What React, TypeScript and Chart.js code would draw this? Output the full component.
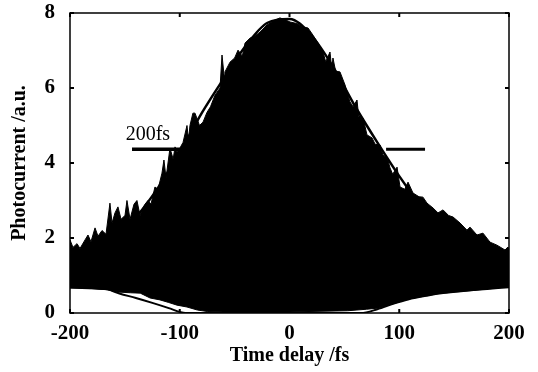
import React, { useEffect, useRef } from "react";
import { Chart, registerables } from "chart.js";

Chart.register(...registerables);

const X_TICKS = [-200, -100, 0, 100, 200];
const Y_TICKS = [0, 2, 4, 6, 8];

// Upper edge of the interference fringes
const fringeTopDelay = [
  -200, -197.3, -193.6, -190.9, -186.3, -183.6, -180.9, -177.2, -174.5, -170.8,
  -167.2, -163.6, -161.7, -159, -156.3, -153.5, -149.9, -148.1, -145.3, -141.7,
  -139, -136.2, -134.4, -131.7, -128.9, -126.2, -122.6, -119.8, -116.2, -114.4,
  -112.5, -108.9, -106, -104.3, -102.5, -99.8, -97, -93.4, -92, -90.7,
  -88, -86.1, -82, -78.8, -75.2, -72, -67.9, -63.3, -61.5, -59.5,
  -58.8, -54.2, -50, -46.9, -43, -40.5, -36, -31, -26.9, -20.5,
  -14, -8.7, -4, 0.5, 6.8, 12.3, 16.9, 21.4, 26, 30.5,
  33, 36.9, 38.5, 39.6, 42, 46, 50.6, 55.1, 58, 61.5,
  63, 67, 70.6, 75.2, 78, 82.5, 85.2, 89, 91.6, 94,
  98, 100.7, 105, 108, 112.5, 118, 121.6, 125.3, 130.8, 135.3,
  139.9, 145, 149, 155.4, 161.7, 164.5, 170.8, 176.3, 182.7, 189,
  196.4, 199, 200,
];
const fringeTopCurrent = [
  1.95, 1.75, 1.85, 1.72, 1.95, 2.08, 1.9, 2.27, 2.05, 2.2,
  2.1, 2.93, 2.4, 2.67, 2.83, 2.5, 2.6, 3.0, 2.5, 2.9,
  3.0, 2.6, 2.75, 2.9, 3.0, 2.9, 3.36, 3.3, 3.73, 4.08,
  3.6, 4.4, 4.1, 4.43, 4.3, 4.4, 4.55, 5.0, 4.6, 5.0,
  5.33, 5.33, 5.0, 5.09, 5.35, 5.5, 5.81, 6.0, 6.88, 6.3,
  6.43, 6.69, 6.8, 7.01, 6.85, 7.2, 7.33, 7.4, 7.49, 7.68,
  7.8, 7.87, 7.82, 7.76, 7.72, 7.63, 7.6, 7.41, 7.2, 6.96,
  6.7, 6.96, 6.5, 6.8, 6.45, 6.43, 6.08, 5.63, 5.5, 5.68,
  5.25, 5.2, 4.75, 4.67, 4.5, 4.48, 4.21, 4.15, 3.87, 3.7,
  3.89, 3.36, 3.3, 3.49, 3.2, 3.1, 3.09, 2.93, 2.8, 2.67,
  2.75, 2.6, 2.56, 2.4, 2.21, 2.29, 2.08, 2.13, 1.89, 1.81,
  1.68, 1.76, 1.7,
];

// Lower edge of the interference fringes
const fringeBottomDelay = [
  -200, -190, -180, -166, -157, -145, -136, -127, -118, -110,
  -102.5, -93.4, -84, -75, -60, 0, 53, 70, 80.6, 95,
  108, 125, 138, 162.7, 180, 200,
];
const fringeBottomCurrent = [
  0.67, 0.66, 0.65, 0.62, 0.56, 0.54, 0.53, 0.4, 0.35, 0.28,
  0.21, 0.16, 0.08, 0.04, 0.03, 0.03, 0.06, 0.1, 0.13, 0.25,
  0.37, 0.46, 0.53, 0.59, 0.64, 0.7,
];

// Smooth upper envelope
const envelopeDelay = [
  -200, -180, -160, -140, -120, -100, -80, -60, -40, -20,
  0, 20, 40, 60, 80, 100, 120, 140, 160, 180, 200,
];
const envelopeCurrent = [
  1.31, 1.57, 1.97, 2.55, 3.33, 4.28, 5.33, 6.25, 7.12, 7.74,
  7.84, 7.4, 6.55, 5.5, 4.55, 3.65, 2.85, 2.2, 1.75, 1.42, 1.22,
];

// Smooth lower envelope
const baseDelay = [
  -200, -180, -166, -155, -140, -125, -110, -100, -95, 65,
  80, 95, 108, 125, 140, 160, 180, 200,
];
const baseCurrent = [
  0.68, 0.66, 0.63, 0.52, 0.4, 0.27, 0.13, 0.03, 0, 0,
  0.1, 0.25, 0.36, 0.46, 0.53, 0.59, 0.64, 0.69,
];

// FWHM marker
const fwhmLeftDelay = [-143.5, -97];
const fwhmRightDelay = [88, 123.5];
const fwhmLevel = 4.37;
const fwhmLabel = "200fs";
const fwhmLabelDelay = -129;
const fwhmLabelLevel = 4.75;

const xTitle = "Time delay /fs";
const yTitle = "Photocurrent /a.u.";

const FONT = '"Liberation Serif", "Times New Roman", serif';

const zip = (xs: number[], ys: number[]) => xs.map((x, i) => ({ x, y: ys[i] }));

const framePlugin = {
  id: "frame",
  afterDatasetsDraw(chart: any) {
    const { ctx, chartArea: a, scales } = chart;
    const xs = scales.x;
    const ys = scales.y;
    ctx.save();
    ctx.strokeStyle = "#000";
    ctx.lineWidth = 1.5;
    ctx.strokeRect(a.left, a.top, a.right - a.left, a.bottom - a.top);
    ctx.lineWidth = 2;
    const tl = 4;
    ctx.beginPath();
    Y_TICKS.forEach((v) => {
      const py = ys.getPixelForValue(v);
      ctx.moveTo(a.left, py);
      ctx.lineTo(a.left + tl, py);
      ctx.moveTo(a.right, py);
      ctx.lineTo(a.right - tl, py);
    });
    X_TICKS.forEach((v) => {
      const px = xs.getPixelForValue(v);
      ctx.moveTo(px, a.bottom);
      ctx.lineTo(px, a.bottom - tl);
      ctx.moveTo(px, a.top);
      ctx.lineTo(px, a.top + tl);
    });
    ctx.stroke();
    ctx.fillStyle = "#000";
    ctx.font = `20px ${FONT}`;
    ctx.textAlign = "center";
    ctx.textBaseline = "middle";
    ctx.fillText(
      fwhmLabel,
      xs.getPixelForValue(fwhmLabelDelay),
      ys.getPixelForValue(fwhmLabelLevel)
    );
    ctx.restore();
  },
};

export default function App() {
  const ref = useRef<HTMLCanvasElement | null>(null);

  useEffect(() => {
    if (!ref.current) return;
    const chart = new Chart(ref.current, {
      type: "line",
      data: {
        datasets: [
          {
            data: zip(fringeTopDelay, fringeTopCurrent),
            borderColor: "#000",
            borderWidth: 1,
            backgroundColor: "#000",
            fill: "+1",
            pointRadius: 0,
            tension: 0,
          },
          {
            data: zip(fringeBottomDelay, fringeBottomCurrent),
            borderColor: "#000",
            borderWidth: 1,
            fill: false,
            pointRadius: 0,
            tension: 0,
          },
          {
            data: zip(envelopeDelay, envelopeCurrent),
            borderColor: "#000",
            borderWidth: 2.5,
            fill: false,
            pointRadius: 0,
            cubicInterpolationMode: "monotone",
          },
          {
            data: zip(baseDelay, baseCurrent),
            borderColor: "#000",
            borderWidth: 2,
            fill: false,
            pointRadius: 0,
            cubicInterpolationMode: "monotone",
          },
          {
            data: zip(fwhmLeftDelay, [fwhmLevel, fwhmLevel]),
            borderColor: "#000",
            borderWidth: 3.5,
            fill: false,
            pointRadius: 0,
          },
          {
            data: zip(fwhmRightDelay, [fwhmLevel, fwhmLevel]),
            borderColor: "#000",
            borderWidth: 3,
            fill: false,
            pointRadius: 0,
          },
        ],
      },
      options: {
        responsive: false,
        animation: false,
        devicePixelRatio: 1,
        layout: { padding: { top: 13, right: 29, left: 0, bottom: 0 } },
        plugins: {
          legend: { display: false },
          tooltip: { enabled: false },
        },
        scales: {
          x: {
            type: "linear",
            min: -200,
            max: 200,
            afterFit: (s: any) => {
              s.height = 59;
              s.paddingLeft = 0;
              s.paddingRight = 0;
            },
            afterBuildTicks: (s: any) => {
              s.ticks = X_TICKS.map((v) => ({ value: v }));
            },
            grid: { display: false, drawTicks: false },
            border: { display: false },
            ticks: {
              color: "#000",
              padding: 8,
              maxRotation: 0,
              font: { family: FONT, size: 21, weight: "bold" },
            },
            title: {
              display: true,
              text: xTitle,
              color: "#000",
              padding: { top: 0, bottom: 4 },
              font: { family: FONT, size: 20, weight: "bold" },
            },
          },
          y: {
            type: "linear",
            min: 0,
            max: 8,
            afterFit: (s: any) => {
              s.width = 70;
              s.paddingTop = 0;
              s.paddingBottom = 0;
            },
            afterBuildTicks: (s: any) => {
              s.ticks = Y_TICKS.map((v) => ({ value: v }));
            },
            grid: { display: false, drawTicks: false },
            border: { display: false },
            ticks: {
              color: "#000",
              padding: 15,
              font: { family: FONT, size: 21, weight: "bold" },
            },
            title: {
              display: true,
              text: yTitle,
              color: "#000",
              padding: { top: 8, bottom: 0 },
              font: { family: FONT, size: 20, weight: "bold" },
            },
          },
        },
      },
      plugins: [framePlugin],
    } as any);
    return () => chart.destroy();
  }, []);

  return (
    <div style={{ position: "fixed", left: 0, top: 0, width: 538, height: 372, background: "#fff" }}>
      <canvas ref={ref} width={538} height={372} />
    </div>
  );
}
